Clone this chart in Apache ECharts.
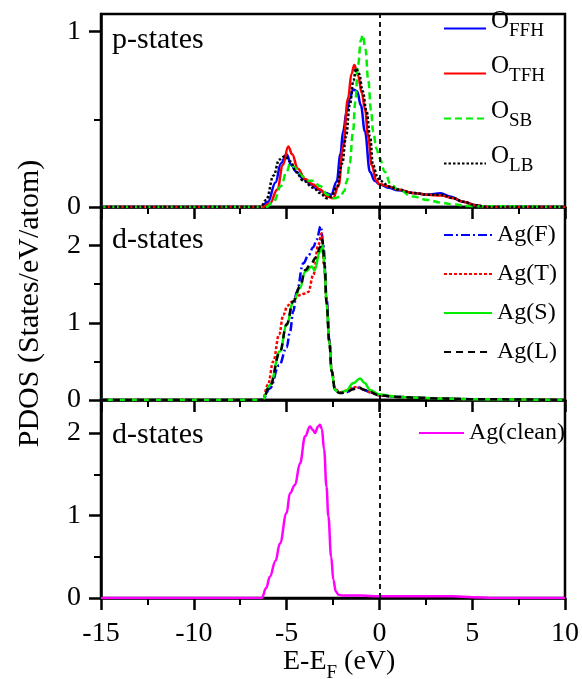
<!DOCTYPE html>
<html>
<head>
<meta charset="utf-8">
<script src="https://cdn.jsdelivr.net/npm/echarts@6/dist/echarts.min.js"></script>
<style>
html,body{margin:0;padding:0;background:#fff;}
#chart{width:582px;height:679px;}
</style>
</head>
<body>
<div id="chart"></div>
<script>
var FONT = 'Liberation Serif';

// ---- p-states (top panel) ----
var eFFH = [-15, -6.4, -6.0, -5.6, -5.3, -5.0, -4.75, -4.46, -4.1, -3.7, -3.3, -2.9, -2.6, -2.3, -2.1, -1.96, -1.75, -1.58, -1.42, -1.2, -1.0, -0.78, -0.51, -0.25, 0, 0.5, 1.0, 1.8, 2.6, 3.3, 3.8, 4.5, 5.2, 5.8, 10];
var pFFH = [0, 0, 0.03, 0.14, 0.25, 0.30, 0.24, 0.20, 0.16, 0.13, 0.10, 0.08, 0.07, 0.145, 0.30, 0.43, 0.55, 0.62, 0.67, 0.66, 0.58, 0.43, 0.20, 0.15, 0.13, 0.11, 0.095, 0.08, 0.07, 0.078, 0.06, 0.03, 0.01, 0, 0];

var eTFH = [-15, -6.3, -5.9, -5.5, -5.2, -4.91, -4.7, -4.4, -4.0, -3.6, -3.2, -2.8, -2.5, -2.2, -1.96, -1.69, -1.5, -1.35, -1.15, -0.95, -0.78, -0.6, -0.42, -0.16, 0, 0.57, 1.0, 1.8, 2.6, 3.3, 4.0, 4.5, 5.2, 5.8, 10];
var pTFH = [0, 0, 0.02, 0.10, 0.24, 0.345, 0.30, 0.22, 0.16, 0.13, 0.10, 0.06, 0.05, 0.12, 0.34, 0.62, 0.76, 0.81, 0.75, 0.65, 0.56, 0.40, 0.24, 0.15, 0.13, 0.116, 0.10, 0.08, 0.07, 0.065, 0.05, 0.03, 0.01, 0, 0];

var eSB = [-15, -6.1, -5.7, -5.3, -5.0, -4.8, -4.5, -4.2, -3.9, -3.6, -3.2, -2.8, -2.4, -2.1, -1.9, -1.76, -1.6, -1.42, -1.3, -1.15, -1.0, -0.9, -0.75, -0.6, -0.45, -0.34, -0.15, 0, 0.3, 0.6, 1.0, 1.8, 2.6, 3.3, 4.0, 4.8, 10];
var pSB = [0, 0, 0.03, 0.12, 0.20, 0.25, 0.22, 0.18, 0.15, 0.15, 0.12, 0.07, 0.05, 0.06, 0.09, 0.145, 0.25, 0.43, 0.60, 0.81, 0.95, 0.98, 0.90, 0.72, 0.55, 0.43, 0.33, 0.28, 0.20, 0.13, 0.10, 0.06, 0.04, 0.025, 0.015, 0.005, 0];

var eLB = [-15, -6.4, -6.1, -5.7, -5.4, -5.09, -4.8, -4.5, -4.1, -3.56, -3.2, -2.84, -2.6, -2.3, -2.0, -1.8, -1.6, -1.4, -1.26, -1.1, -0.9, -0.7, -0.5, -0.35, -0.1, 0, 0.57, 1.0, 1.8, 2.6, 3.3, 4.0, 4.5, 5.2, 5.8, 10];
var pLB = [0, 0, 0.04, 0.18, 0.27, 0.29, 0.26, 0.20, 0.15, 0.11, 0.08, 0.05, 0.06, 0.11, 0.25, 0.40, 0.58, 0.72, 0.79, 0.76, 0.66, 0.55, 0.40, 0.24, 0.17, 0.15, 0.116, 0.10, 0.08, 0.07, 0.07, 0.05, 0.03, 0.01, 0, 0];

// ---- d-states (middle panel) ----
var eAgF = [-15, -6.3, -5.9, -5.4, -5.0, -4.82, -4.64, -4.46, -4.1, -3.83, -3.56, -3.38, -3.16, -3.02, -2.84, -2.7, -2.57, -2.39, -2.12, -1.8, -1.4, -1.1, -0.8, -0.5, 0, 1, 2, 3, 5, 10];
var dAgF = [0, 0, 0.15, 0.45, 0.68, 0.88, 1.15, 1.40, 1.77, 1.87, 1.98, 2.08, 2.25, 2.0, 1.3, 0.78, 0.38, 0.13, 0.09, 0.10, 0.15, 0.16, 0.13, 0.10, 0.06, 0.04, 0.03, 0.02, 0.01, 0];

var eAgT = [-15, -6.3, -6.0, -5.72, -5.4, -5.18, -4.95, -4.73, -4.5, -4.28, -4.0, -3.83, -3.56, -3.3, -3.11, -2.98, -2.84, -2.7, -2.57, -2.39, -2.12, -1.8, -1.5, -1.2, -0.8, -0.5, 0, 1, 2, 3, 5, 10];
var dAgT = [0, 0, 0.20, 0.50, 0.85, 1.10, 1.22, 1.27, 1.32, 1.36, 1.38, 1.40, 1.62, 2.0, 2.16, 1.75, 1.25, 0.76, 0.38, 0.14, 0.10, 0.12, 0.16, 0.17, 0.13, 0.10, 0.06, 0.04, 0.03, 0.02, 0.01, 0];

var eAgS = [-15, -6.3, -5.9, -5.36, -5.0, -4.64, -4.28, -4.0, -3.65, -3.5, -3.2, -3.06, -2.95, -2.84, -2.7, -2.57, -2.39, -2.12, -1.8, -1.4, -1.04, -0.8, -0.5, 0, 1, 2, 3, 5, 10];
var dAgS = [0, 0, 0.19, 0.63, 0.97, 1.27, 1.45, 1.66, 1.73, 1.68, 1.92, 2.0, 1.7, 1.23, 0.75, 0.37, 0.13, 0.09, 0.12, 0.22, 0.28, 0.22, 0.13, 0.07, 0.04, 0.03, 0.02, 0.01, 0];

var eAgL = [-15, -6.3, -5.9, -5.36, -5.0, -4.64, -4.28, -4.0, -3.7, -3.4, -3.2, -3.08, -2.95, -2.84, -2.7, -2.57, -2.39, -2.12, -1.8, -1.4, -1.1, -0.8, -0.5, 0, 1, 2, 3, 5, 10];
var dAgL = [0, 0, 0.18, 0.62, 0.98, 1.28, 1.47, 1.68, 1.76, 1.85, 1.98, 2.08, 1.75, 1.25, 0.76, 0.37, 0.13, 0.09, 0.10, 0.14, 0.16, 0.13, 0.10, 0.06, 0.04, 0.03, 0.02, 0.01, 0];

// ---- d-states clean (bottom panel) ----
var eClean = [-15, -6.34, -6.1, -5.9, -5.6, -5.36, -5.0, -4.82, -4.55, -4.28, -4.0, -3.74, -3.6, -3.47, -3.3, -3.2, -3.1, -2.98, -2.85, -2.75, -2.6, -2.48, -2.35, -2.21, -2.0, -1.0, 0, 2, 4, 5, 6, 10];
var dClean = [0, 0, 0.12, 0.26, 0.45, 0.66, 1.03, 1.27, 1.37, 1.63, 1.96, 2.08, 2.04, 2.0, 2.08, 2.1, 2.05, 1.8, 1.35, 0.99, 0.5, 0.22, 0.08, 0.04, 0.03, 0.03, 0.02, 0.02, 0.02, 0.01, 0, 0];

var yMax = [1.1, 2.5, 2.4];
var yLabels = [[0, 1], [0, 1, 2], [0, 1, 2]];

function zip(e, v){
	return e.map(function(x, i){ return [x, v[i]]; });
}

var chart = echarts.init(document.getElementById('chart'));

var grids = [
	{left: 101, top: 14, width: 464, height: 193},
	{left: 101, top: 207, width: 464, height: 193},
	{left: 101, top: 400, width: 464, height: 198}
];

var xAxes = [], yAxes = [];
grids.forEach(function(g, i){
	g.show = true;
	g.borderColor = '#000';
	g.borderWidth = 2.5;
	xAxes.push({
		type: 'value', gridIndex: i, min: -15, max: 10, interval: 5,
		axisLine: {show: true, onZero: false, lineStyle: {color: '#000', width: 2.5}},
		axisTick: {show: true, inside: false, length: 12, lineStyle: {color: '#000', width: 2.5}},
		minorTick: {show: true, splitNumber: 2, length: 7, lineStyle: {color: '#000', width: 2}},
		splitLine: {show: false},
		axisLabel: {show: i == 2, fontSize: 28, fontFamily: FONT, color: '#000', margin: 22}
	});
	yAxes.push({
		type: 'value', gridIndex: i, min: 0, max: yMax[i], interval: 1,
		axisLine: {show: true, onZero: false, lineStyle: {color: '#000', width: 2.5}},
		axisTick: {show: true, inside: false, length: 12, customValues: yLabels[i], lineStyle: {color: '#000', width: 2.5}},
		minorTick: {show: true, splitNumber: 2, length: 7, lineStyle: {color: '#000', width: 2}},
		splitLine: {show: false},
		axisLabel: {fontSize: 28, fontFamily: FONT, color: '#000', margin: 20, customValues: yLabels[i]}
	});
});

yAxes[1].name = 'PDOS (States/eV/atom)';
yAxes[1].nameLocation = 'middle';
yAxes[1].nameRotate = 90;
yAxes[1].nameGap = 56;
yAxes[1].nameTextStyle = {fontSize: 30, fontFamily: FONT, color: '#000'};

var zeroLine = {
	silent: true,
	symbol: ['none', 'none'],
	label: {show: false},
	lineStyle: {type: [5, 4], color: '#000', width: 1.8},
	data: [{xAxis: 0}]
};

function line(name, idx, e, v, color, type){
	return {
		name: name, type: 'line', xAxisIndex: idx, yAxisIndex: idx,
		data: zip(e, v),
		smooth: 0.4, smoothMonotone: 'x',
		symbol: 'none',
		lineStyle: {color: color, width: 2.5, type: type},
		itemStyle: {color: color}
	};
}

var series = [
	line('O_FFH', 0, eFFH, pFFH, '#0000ff', 'solid'),
	line('O_TFH', 0, eTFH, pTFH, '#ff0000', 'solid'),
	line('O_SB', 0, eSB, pSB, '#00ee00', [7, 4]),
	line('O_LB', 0, eLB, pLB, '#000000', [2.5, 2]),
	line('Ag(F)', 1, eAgF, dAgF, '#0000ff', [9, 3, 2, 3]),
	line('Ag(T)', 1, eAgT, dAgT, '#ff0000', [3, 2]),
	line('Ag(S)', 1, eAgS, dAgS, '#00ee00', 'solid'),
	line('Ag(L)', 1, eAgL, dAgL, '#000000', [7, 5]),
	line('Ag(clean)', 2, eClean, dClean, '#ff00ff', 'solid')
];
series[0].markLine = zeroLine;
series[4].markLine = zeroLine;
series[8].markLine = zeroLine;

var legends = [];
var topNames = ['O_FFH', 'O_TFH', 'O_SB', 'O_LB'];
var topRows = [25, 70, 115, 160];
topNames.forEach(function(n, k){
	legends.push({
		data: [n], left: 443, top: topRows[k] - 16, padding: 0,
		itemWidth: 42, itemHeight: 14, selectedMode: false,
		itemStyle: {opacity: 0},
		formatter: function(name){ return '{o|O}{s|' + name.slice(2) + '}'; },
		textStyle: {
			color: '#000',
			rich: {
				o: {fontSize: 25, lineHeight: 25, fontFamily: FONT, color: '#000', verticalAlign: 'bottom', padding: [0, 0, 7, 0]},
				s: {fontSize: 19, lineHeight: 19, fontFamily: FONT, color: '#000', verticalAlign: 'bottom'}
			}
		}
	});
});
var midNames = ['Ag(F)', 'Ag(T)', 'Ag(S)', 'Ag(L)'];
var midRows = [235, 274, 313, 352];
midNames.forEach(function(n, k){
	legends.push({
		data: [n], left: 443, top: midRows[k] - 17, padding: 0,
		itemWidth: 48, itemHeight: 14, selectedMode: false,
		itemStyle: {opacity: 0},
		textStyle: {fontSize: 24, lineHeight: 24, fontFamily: FONT, color: '#000', padding: [10, 0, 0, 0]}
	});
});
legends.push({
	data: ['Ag(clean)'], left: 418, top: 433 - 17, padding: 0,
	itemWidth: 45, itemHeight: 14, selectedMode: false,
	itemStyle: {opacity: 0},
	textStyle: {fontSize: 24, lineHeight: 24, fontFamily: FONT, color: '#000', padding: [10, 0, 0, 0]}
});

var option = {
	animation: false,
	backgroundColor: '#fff',
	grid: grids,
	xAxis: xAxes,
	yAxis: yAxes,
	legend: legends,
	series: series,
	graphic: [
		{type: 'text', left: 112, top: 25, style: {text: 'p-states', fontSize: 30, fontFamily: FONT, fill: '#000'}},
		{type: 'text', left: 112, top: 225, style: {text: 'd-states', fontSize: 30, fontFamily: FONT, fill: '#000'}},
		{type: 'text', left: 112, top: 420, style: {text: 'd-states', fontSize: 30, fontFamily: FONT, fill: '#000'}},
		{type: 'text', left: 283, top: 648, style: {
			text: '{m|E-E}{s|F}{m| (eV)}',
			rich: {
				m: {fontSize: 28, lineHeight: 28, fontFamily: FONT, fill: '#000', verticalAlign: 'bottom', padding: [0, 0, 7, 0]},
				s: {fontSize: 19, lineHeight: 19, fontFamily: FONT, fill: '#000', verticalAlign: 'bottom'}
			}
		}}
	]
};
chart.setOption(option);
</script>
</body>
</html>
